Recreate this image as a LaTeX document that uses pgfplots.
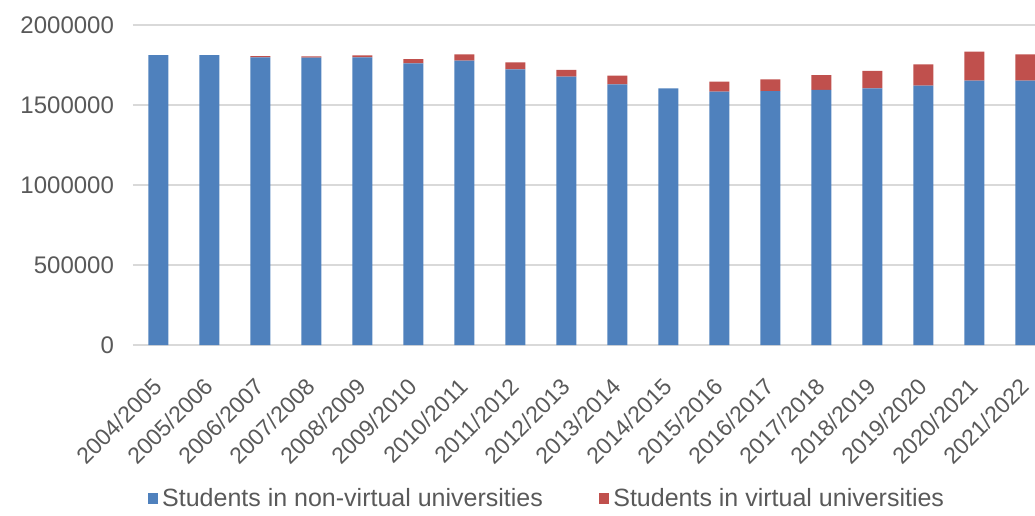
\documentclass[border=0pt]{standalone}
\usepackage{fontspec}
\setmainfont{Liberation Sans}
\usepackage{pgfplots}
\pgfplotsset{compat=1.18}
\definecolor{barblue}{HTML}{4F81BD}
\definecolor{barred}{HTML}{C0504D}
\definecolor{txtgray}{HTML}{595959}
\definecolor{gridgray}{HTML}{D9D9D9}
\begin{document}
\begin{tikzpicture}
\begin{axis}[
  at={(66.5pt,85pt)}, anchor=south west,
  scale only axis, width=459pt, height=160pt,
  ybar stacked, bar width=10pt,
  xmin=-0.5, xmax=17.5, ymin=0, ymax=2000000,
  xtick={0,...,17},
  xticklabels={2004/2005,2005/2006,2006/2007,2007/2008,2008/2009,2009/2010,2010/2011,2011/2012,2012/2013,2013/2014,2014/2015,2015/2016,2016/2017,2017/2018,2018/2019,2019/2020,2020/2021,2021/2022},
  ytick={0,500000,1000000,1500000,2000000},
  scaled y ticks=false,
  /pgf/number format/assume math mode=true,
  yticklabel style={/pgf/number format/fixed,/pgf/number format/1000 sep={}, text=txtgray, font=\fontsize{12}{14}\selectfont, xshift=-6pt},
  xticklabel style={rotate=45, anchor=north east, text=txtgray, font=\fontsize{11.5}{14}\selectfont, inner sep=1pt, xshift=-12.5pt, yshift=-7.5pt},
  ymajorgrids, grid style={gridgray, line width=0.8pt},
  axis lines*=left,
  x axis line style={gridgray, line width=0.8pt, -},
  y axis line style={draw=none},
  major tick length=0pt,
  tick style={draw=none},
  legend columns=2,
  legend style={at={(0.452,-0.48)}, anchor=center, draw=none, fill=none,
    font=\fontsize{12.5}{14}\selectfont, text=txtgray,
    /tikz/every even column/.append style={column sep=26pt}},
  legend cell align=left,
  legend image code/.code={\fill[#1] (0pt,-2.6pt) rectangle (5.2pt,2.6pt);},
  clip=false,
]
\addplot[fill=barblue, draw=none] coordinates {
(0,1812000) (1,1812000) (2,1798000) (3,1796000) (4,1798000) (5,1760000)
(6,1777000) (7,1723000) (8,1677000) (9,1629000) (10,1604000) (11,1583000)
(12,1587000) (13,1594000) (14,1604000) (15,1621000) (16,1652000) (17,1652000)};
\addlegendentry{Students in non-virtual universities}
\addplot[fill=barred, draw=none] coordinates {
(0,0) (1,0) (2,8000) (3,8000) (4,12000) (5,27000)
(6,40000) (7,44000) (8,42000) (9,54000) (10,0) (11,63000)
(12,73000) (13,93000) (14,110000) (15,133000) (16,181000) (17,165000)};
\addlegendentry{Students in virtual universities}
\end{axis}
\pgfresetboundingbox
\path[use as bounding box] (0,0) rectangle (517.5pt,257.5pt);
\end{tikzpicture}
\end{document}
